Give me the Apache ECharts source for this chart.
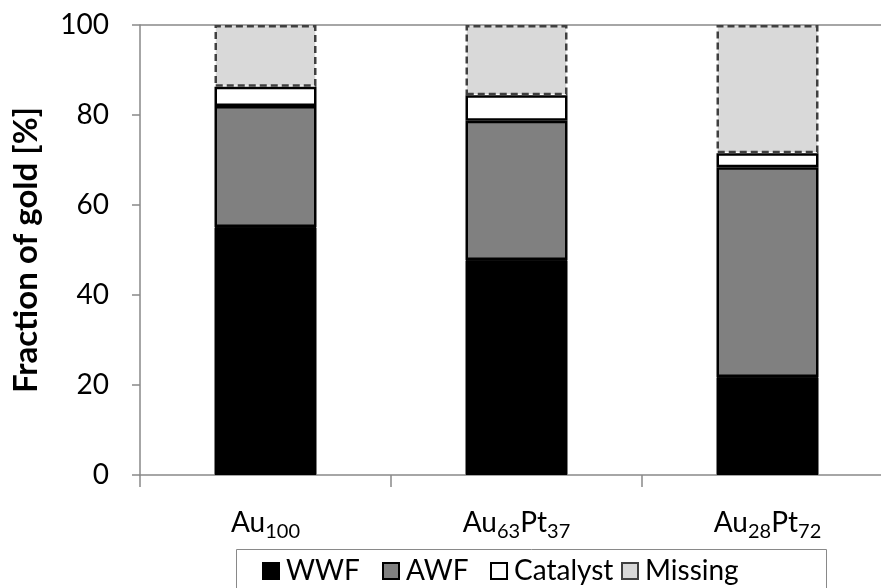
<!DOCTYPE html>
<html>
<head>
<meta charset="utf-8">
<script src="https://cdn.jsdelivr.net/npm/echarts@6/dist/echarts.min.js"></script>
<style>
  html, body { margin: 0; padding: 0; background: #fff; }
  #chart { width: 881px; height: 588px; }
</style>
</head>
<body>
<div id="chart"></div>
<script>
// Sample compositions (digits are rendered as subscripts)
const categories = ['Au100', 'Au63Pt37', 'Au28Pt72'];

// Fraction of gold in each fraction, percent (stacked bottom to top)
const wwf      = [55.1, 47.8, 21.8];
const awf      = [26.9, 30.9, 46.6];
const catalyst = [4.3, 5.7, 3.1];
const missing  = [13.7, 15.6, 28.5];

const yTicks = { min: 0, max: 100, interval: 20 };

// Legend entries and the left edge of each one
const legendNames = ['WWF', 'AWF', 'Catalyst', 'Missing'];
const legendLeft  = [262, 382, 490, 621];

const FONT = 'Lato, "Open Sans", sans-serif';
const AXIS_GRAY = '#898989';

const chart = echarts.init(document.getElementById('chart'), null, { renderer: 'canvas' });

function subLabel(v) {
  return v.replace(/([A-Za-z]+)(\d+)/g, '{m|$1}{s|$2}');
}

const barW = 102;

chart.setOption({
  animation: false,
  backgroundColor: '#fff',
  grid: { left: 140, top: 25, width: 753, height: 450, outerBoundsMode: 'none', containLabel: false },
  graphic: [{
    type: 'rect',
    shape: { x: 236.5, y: 549.5, width: 590, height: 60 },
    style: { fill: 'none', stroke: AXIS_GRAY, lineWidth: 1 },
    z: 10
  }],
  legend: legendNames.map((n, i) => ({
    top: 557,
    left: legendLeft[i],
    padding: 0,
    itemWidth: 16,
    itemHeight: 16,
    icon: 'rect',
    textStyle: { fontFamily: FONT, fontSize: 28, color: '#000', padding: [0, 0, 0, 2] },
    data: [n]
  })),
  xAxis: {
    type: 'category',
    data: categories,
    axisLine: { lineStyle: { color: AXIS_GRAY, width: 1.5 } },
    axisTick: { show: true, length: 12, lineStyle: { color: AXIS_GRAY, width: 1.5 } },
    axisLabel: {
      margin: 32,
      formatter: subLabel,
      rich: {
        m: { fontFamily: FONT, fontSize: 28, color: '#000', lineHeight: 32 },
        s: { fontFamily: FONT, fontSize: 20, color: '#000', lineHeight: 20, verticalAlign: 'bottom', padding: [0, 0, -3, 0] }
      }
    }
  },
  yAxis: {
    type: 'value',
    min: yTicks.min,
    max: yTicks.max,
    interval: yTicks.interval,
    name: 'Fraction of gold [%]',
    nameLocation: 'middle',
    nameGap: 97,
    nameTextStyle: { fontFamily: FONT, fontSize: 33, fontWeight: 'bold', color: '#000' },
    axisLine: { show: true, lineStyle: { color: AXIS_GRAY, width: 1.5 } },
    axisTick: { show: true, length: 8, lineStyle: { color: AXIS_GRAY, width: 1.5 } },
    axisLabel: { margin: 31, fontFamily: FONT, fontSize: 28, color: '#000' },
    splitLine: {
      show: true,
      lineStyle: { color: ['rgba(0,0,0,0)', 'rgba(0,0,0,0)', 'rgba(0,0,0,0)', 'rgba(0,0,0,0)', 'rgba(0,0,0,0)', AXIS_GRAY], width: 1.5 }
    }
  },
  series: [
    {
      name: 'WWF', type: 'bar', stack: 'gold', barWidth: barW, data: wwf,
      itemStyle: { color: '#000', borderColor: '#000', borderWidth: 1 }
    },
    {
      name: 'AWF', type: 'bar', stack: 'gold', barWidth: barW, data: awf,
      itemStyle: { color: '#808080', borderColor: '#000', borderWidth: 2.5 }
    },
    {
      name: 'Catalyst', type: 'bar', stack: 'gold', barWidth: barW, data: catalyst,
      itemStyle: { color: '#fff', borderColor: '#000', borderWidth: 2.5 }
    },
    {
      name: 'Missing', type: 'bar', stack: 'gold', barWidth: barW, data: missing,
      itemStyle: { color: '#d9d9d9', borderColor: '#404040', borderWidth: 2.5, borderType: [7, 4] }
    }
  ]
});
</script>
</body>
</html>
